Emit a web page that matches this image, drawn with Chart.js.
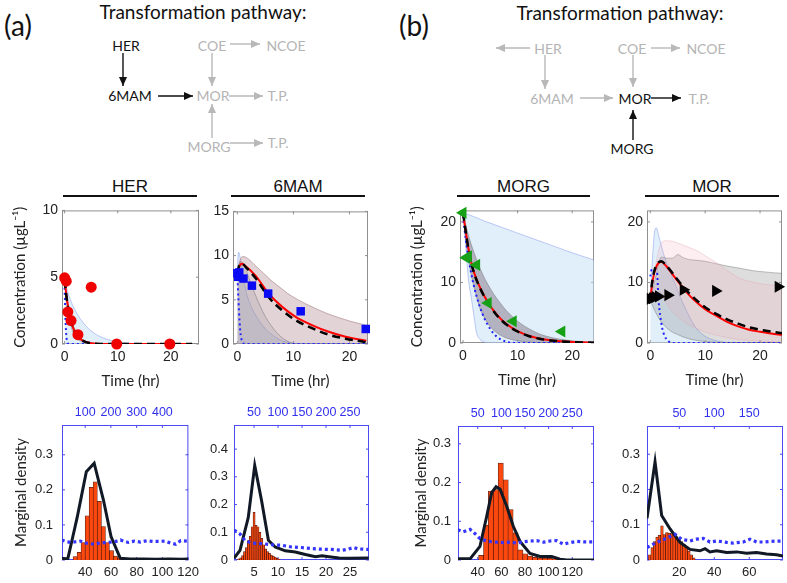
<!DOCTYPE html>
<html>
<head>
<meta charset="utf-8">
<script src="https://cdn.jsdelivr.net/npm/chart.js@4"></script>
<style>
  body { margin: 0; background: #fff; }
  #fig { position: relative; width: 787px; height: 583px; overflow: hidden; }
  #fig canvas { position: absolute; }
  .head { position: absolute; top: 177px; height: 18px; line-height: 18px; text-align: center;
          font: 17px "Liberation Sans", Arial, sans-serif; color: #111; border-bottom: 2px solid #111; }
</style>
</head>
<body>
<div id="fig">
  <svg width="787" height="160" style="position:absolute;left:0;top:0" font-family="Lato, sans-serif">
    <defs>
      <marker id="hk" viewBox="0 0 9 8" refX="9" refY="4" markerWidth="9" markerHeight="8" markerUnits="userSpaceOnUse" orient="auto">
        <path d="M0,0 L9,4 L0,8 z" fill="#111"/>
      </marker>
      <marker id="hg" viewBox="0 0 9 8" refX="9" refY="4" markerWidth="9" markerHeight="8" markerUnits="userSpaceOnUse" orient="auto">
        <path d="M0,0 L9,4 L0,8 z" fill="#b8b8b8"/>
      </marker>
    </defs>
    <g dominant-baseline="central" text-anchor="middle">
      <text x="18" y="25" font-size="28" fill="#111">(a)</text>
      <text x="203" y="11" font-size="19" fill="#111">Transformation pathway:</text>
      <g font-size="14">
        <text x="126" y="45" fill="#111">HER</text>
        <text x="130" y="95" fill="#111">6MAM</text>
        <text x="212" y="45" fill="#b4b4b4">COE</text>
        <text x="286" y="45" fill="#b4b4b4">NCOE</text>
        <text x="213" y="95" fill="#b4b4b4">MOR</text>
        <text x="278" y="95" fill="#b4b4b4">T.P.</text>
        <text x="209" y="146" fill="#b4b4b4">MORG</text>
        <text x="278" y="142" fill="#b4b4b4">T.P.</text>
      </g>
      <text x="414" y="25" font-size="28" fill="#111">(b)</text>
      <text x="620" y="12" font-size="19" fill="#111">Transformation pathway:</text>
      <g font-size="14">
        <text x="548" y="48" fill="#b4b4b4">HER</text>
        <text x="632" y="48" fill="#b4b4b4">COE</text>
        <text x="706" y="48" fill="#b4b4b4">NCOE</text>
        <text x="552" y="98" fill="#b4b4b4">6MAM</text>
        <text x="635" y="98" fill="#111">MOR</text>
        <text x="699" y="98" fill="#b4b4b4">T.P.</text>
        <text x="632" y="148" fill="#111">MORG</text>
      </g>
    </g>
    <g stroke-width="1.4" fill="none">
      <line x1="123" y1="53" x2="123" y2="86" stroke="#111" marker-end="url(#hk)"/>
      <line x1="158" y1="96" x2="193" y2="96" stroke="#111" marker-end="url(#hk)"/>
      <line x1="230" y1="44" x2="260" y2="44" stroke="#b8b8b8" marker-end="url(#hg)"/>
      <line x1="212" y1="53" x2="212" y2="86" stroke="#b8b8b8" marker-end="url(#hg)"/>
      <line x1="229" y1="96" x2="263" y2="96" stroke="#b8b8b8" marker-end="url(#hg)"/>
      <line x1="212" y1="138" x2="212" y2="104" stroke="#b8b8b8" marker-end="url(#hg)"/>
      <line x1="230" y1="143" x2="263" y2="143" stroke="#b8b8b8" marker-end="url(#hg)"/>

      <line x1="530" y1="48" x2="496" y2="48" stroke="#b8b8b8" marker-end="url(#hg)"/>
      <line x1="651" y1="48" x2="680" y2="48" stroke="#b8b8b8" marker-end="url(#hg)"/>
      <line x1="545" y1="55" x2="545" y2="89" stroke="#b8b8b8" marker-end="url(#hg)"/>
      <line x1="580" y1="98" x2="613" y2="98" stroke="#b8b8b8" marker-end="url(#hg)"/>
      <line x1="633" y1="55" x2="633" y2="87" stroke="#b8b8b8" marker-end="url(#hg)"/>
      <line x1="651" y1="98" x2="681" y2="98" stroke="#111" marker-end="url(#hk)"/>
      <line x1="633" y1="140" x2="633" y2="110" stroke="#111" marker-end="url(#hk)"/>
    </g>
  </svg>
  <div class="head" style="left:63px;width:134px">HER</div>
  <div class="head" style="left:231px;width:134px">6MAM</div>
  <div class="head" style="left:457px;width:133px">MORG</div>
  <div class="head" style="left:645px;width:134px">MOR</div>
</div>
<script>
// ---- tick labels ----
const timeTicks = [0, 10, 20];
const herConcTicks = [0, 5, 10];
const mamConcTicks = [0, 5, 10, 15];
const morConcTicks = [0, 10, 20];
const herHistTicks = [40, 60, 80, 100, 120];
const herHistTopTicks = [100, 200, 300, 400];
const mamHistTicks = [5, 10, 15, 20, 25];
const mamHistTopTicks = [50, 100, 150, 200, 250];
const morgHistTicks = [40, 60, 80, 100, 120];
const morgHistTopTicks = [50, 100, 150, 200, 250];
const morHistTicks = [20, 40, 60];
const morHistTopTicks = [50, 100, 150];
const densTicks3 = [0, 0.1, 0.2, 0.3];
const densTicks4 = [0, 0.1, 0.2, 0.3, 0.4];

// ---- HER concentration ----
const herTime = [0, 0.3, 0.6, 1.2, 2.5, 5, 9.8, 19.8];
const herConc = [4.95, 4.7, 2.4, 1.75, 0.7, 4.25, 0, 0];
const herCurveT = [0, 0.25, 0.5, 0.75, 1, 1.5, 2, 2.5, 3, 4, 5, 6, 8, 10, 14, 18, 24];
const herFit = [4.8, 3.9, 3.15, 2.55, 2.05, 1.32, 0.85, 0.55, 0.35, 0.15, 0.06, 0.02, 0, 0, 0, 0, 0];
const herMean = [4.8, 3.85, 3.1, 2.5, 2.0, 1.28, 0.82, 0.53, 0.34, 0.14, 0.06, 0.02, 0, 0, 0, 0, 0];
const herGrayHi = [4.8, 4.1, 3.4, 2.8, 2.3, 1.55, 1.05, 0.7, 0.47, 0.2, 0.09, 0.04, 0.01, 0, 0, 0, 0];
const herGrayLo = [4.8, 3.5, 2.7, 2.1, 1.6, 0.95, 0.55, 0.33, 0.2, 0.07, 0.02, 0.01, 0, 0, 0, 0, 0];
const herBandT = [0, 0.5, 1, 1.5, 2, 3, 4, 5, 6, 7, 8, 10, 12, 14, 24];
const herBandHi = [4.8, 4.0, 3.4, 2.9, 2.5, 1.85, 1.35, 0.97, 0.7, 0.5, 0.35, 0.17, 0.07, 0.02, 0];
const herInitT = [0, 0.1, 0.2, 0.3, 0.4, 0.5, 0.7, 1, 24];
const herInit = [4.2, 2.6, 1.4, 0.7, 0.3, 0.1, 0.02, 0, 0];

// ---- 6MAM concentration ----
const mamTime = [0, 0.15, 0.35, 1.1, 2.6, 5.5, 11.3, 22.9];
const mamConc = [8.0, 7.6, 8.1, 7.4, 6.6, 5.7, 3.7, 1.7];
const mamCurveT = [0, 0.3, 0.8, 1.5, 3.2, 5.6, 8, 10.4, 13.3, 16.3, 19.3, 23];
const mamFit = [7.95, 8.7, 9.08, 8.8, 7.76, 5.7, 4.2, 3.07, 2.14, 1.38, 0.82, 0.37];
const mamMean = [8.0, 8.8, 9.1, 8.7, 7.5, 5.3, 3.8, 2.7, 1.8, 1.05, 0.6, 0.2];
const mamGrayT = [0, 0.5, 1, 2, 3, 4, 5, 6, 7, 8, 9, 10, 12, 14, 16, 18, 20, 23.3];
const mamGrayHi = [8, 9.5, 9.9, 9.6, 9.0, 8.4, 7.8, 7.2, 6.7, 6.2, 5.7, 5.3, 4.6, 4.0, 3.45, 3.0, 2.6, 2.06];
const mamInnerT = [0, 0.5, 1, 2, 3, 4, 5, 6, 7, 8, 9, 10.4, 23.3];
const mamInner = [8, 9.3, 9.2, 7.6, 5.9, 4.4, 3.1, 2.1, 1.3, 0.7, 0.3, 0, 0];
const mamBandT = [0, 0.2, 0.5, 0.8, 1.2, 1.7, 2.5, 3.5, 4.5, 5.5, 6.5, 7.5, 9, 11, 23.3];
const mamBandHi = [8, 10.4, 9.8, 8.5, 7, 5.6, 4.2, 3, 2.1, 1.4, 0.9, 0.5, 0.2, 0.05, 0];
const mamInitT = [0, 0.2, 0.4, 0.6, 0.9, 1.3, 23.3];
const mamInit = [8, 5, 2.5, 1, 0.3, 0, 0];

// ---- MORG concentration ----
const morgTime = [0, 0.6, 1.0, 2.5, 4.6, 9.2, 18.1];
const morgConc = [21.5, 14.1, 14.3, 12.9, 6.6, 3.6, 1.9];
const morgCurveT = [0, 0.5, 1, 1.5, 2, 3, 4, 5, 6, 7, 8, 10, 12, 14, 16, 18, 20, 24];
const morgFit = [21.5, 18.5, 15.6, 13.4, 11.7, 9.4, 7.6, 6.1, 4.9, 3.9, 3.1, 1.95, 1.2, 0.75, 0.45, 0.28, 0.17, 0.06];
const morgMean = [21.5, 18.4, 15.5, 13.3, 11.6, 9.3, 7.5, 6.0, 4.8, 3.8, 3.0, 1.9, 1.15, 0.7, 0.42, 0.26, 0.16, 0.05];
const morgGrayHi = [21.6, 19.5, 17.8, 16.3, 15, 12.6, 10.6, 9, 7.6, 6.4, 5.3, 3.6, 2.4, 1.5, 0.95, 0.6, 0.35, 0.12];
const morgGrayLo = [21.6, 17, 13.8, 11.3, 9.3, 6.0, 4.0, 2.7, 1.8, 1.2, 0.8, 0.35, 0.15, 0.06, 0.02, 0, 0, 0];
const morgBandT = [0, 0.3, 0.7, 1, 1.6, 2, 2.5, 3, 3.5, 4, 5, 8, 12, 16, 20, 24];
const morgBandHi = [21.5, 21.4, 21.3, 21.2, 21.0, 20.85, 20.7, 20.5, 20.3, 20.1, 19.8, 18.8, 17.5, 16.2, 14.9, 13.7];
const morgBandLo = [21.5, 18.5, 13.7, 10.5, 7, 4.5, 1.6, 0.7, 0.3, 0.1, 0, 0, 0, 0, 0, 0];
const morgInitT = [0, 0.5, 1, 1.5, 2, 3, 4, 5, 6, 7, 8, 9, 10, 24];
const morgInit = [21, 17.2, 14, 11.5, 9.4, 6.2, 3.9, 2.3, 1.2, 0.55, 0.2, 0.05, 0, 0];

// ---- MOR concentration ----
const morTime = [0, 0.4, 0.9, 1.5, 3.2, 6, 11.9, 23.3];
const morConc = [7.3, 7.4, 7.6, 7.7, 7.9, 8.8, 8.6, 9.3];
const morCurveT = [0, 0.3, 0.7, 1.2, 2, 3, 4, 5, 6, 7, 8, 9, 10, 12, 14, 16, 18, 20, 22, 24];
const morFit = [7, 9.5, 11.5, 12.8, 13.4, 12.6, 11.4, 10.2, 9.1, 8.0, 7.1, 6.3, 5.6, 4.5, 3.5, 2.75, 2.2, 1.85, 1.55, 1.35];
const morMean = [7, 9.8, 11.8, 13.0, 13.5, 12.7, 11.6, 10.4, 9.3, 8.3, 7.4, 6.6, 5.9, 4.8, 3.9, 3.2, 2.6, 2.2, 1.9, 1.6];
const morGrayT = [0, 1, 2, 3, 4, 5, 6, 7, 8, 10, 12, 14, 16, 19, 24];
const morGrayHi = [7, 11, 14.2, 14, 14, 14.6, 14.1, 13.8, 13.7, 13.5, 13.1, 12.7, 12.4, 11.9, 11.5];
const morGrayLo = [7, 5, 3.5, 2.5, 1.8, 1.4, 1.0, 0.7, 0.5, 0.25, 0.1, 0.05, 0, 0, 0];
const morPinkT = [0, 1, 2, 3, 4, 5, 7, 9, 10, 12, 14, 16, 18, 20, 24];
const morPinkHi = [7, 13, 16.5, 16.9, 16.8, 16.5, 15.8, 15, 14.4, 13.3, 12, 10.8, 10.2, 9.8, 9.4];
const morPinkLo = [7, 9, 8, 6.5, 5.2, 4.3, 3, 2.2, 1.8, 1.3, 0.9, 0.6, 0.4, 0.3, 0.15];
const morBandT = [0, 0.4, 0.8, 1.1, 1.6, 2.5, 3.5, 4.5, 5.5, 6.5, 7.5, 8.5, 10, 11.5, 13, 15, 24];
const morBandHi = [7, 14, 18.5, 19, 17.5, 14.5, 12, 9.8, 7.5, 5.5, 3.7, 2.3, 1.1, 0.5, 0.2, 0, 0];
const morInitT = [0, 0.3, 1.2, 1.5, 2.1, 2.6, 3.3, 4, 24];
const morInit = [11, 12.2, 11.9, 7.2, 2.8, 1.2, 0.3, 0, 0];

// ---- marginal densities ----
const herBins = [30.6, 33.7, 36.8, 40.0, 43.1, 46.2, 49.4, 52.5, 55.6, 58.8, 61.9, 65.0];
const herHist = [0.01, 0.022, 0.05, 0.126, 0.207, 0.223, 0.167, 0.095, 0.05, 0.027, 0.011, 0.006];
const herPostX = [21.8, 26.5, 30, 33.7, 37, 40.9, 47, 54.2, 60.1, 67.3, 75, 85, 95, 105, 115, 120.2];
const herPost = [0.005, 0.003, 0.06, 0.12, 0.18, 0.252, 0.276, 0.171, 0.067, 0.005, 0.003, 0.003, 0.002, 0.003, 0.002, 0.003];
const herPriorX = [9, 27, 45, 63, 81, 105, 135, 159, 189, 219, 237, 267, 291, 315, 339, 363, 387, 410, 434, 452, 471, 495];
const herPrior = [0.057, 0.052, 0.050, 0.052, 0.054, 0.048, 0.045, 0.049, 0.050, 0.053, 0.057, 0.050, 0.054, 0.051, 0.055, 0.053, 0.053, 0.054, 0.048, 0.045, 0.055, 0.054];

const mamBins = [1.6, 2.0, 2.4, 2.8, 3.2, 3.6, 4.0, 4.4, 4.8, 5.2, 5.6, 6.0, 6.4, 6.8, 7.2, 7.6, 8.0, 8.4, 8.8, 9.2, 9.6, 10.0];
const mamHist = [0.004, 0.008, 0.016, 0.03, 0.045, 0.07, 0.085, 0.12, 0.172, 0.125, 0.12, 0.1, 0.078, 0.055, 0.04, 0.03, 0.024, 0.018, 0.014, 0.01, 0.006, 0.003];
const mamPostX = [0.83, 2.08, 3.8, 5.15, 6.6, 8, 9.4, 11.5, 13.6, 15.7, 17.8, 19.2, 20.6, 22.7, 24.8, 28.9];
const mamPost = [0.006, 0.035, 0.153, 0.341, 0.212, 0.071, 0.047, 0.033, 0.029, 0.02, 0.012, 0.015, 0.012, 0.007, 0.006, 0.007];
const mamPriorX = [8.3, 20.8, 31, 45, 66, 87, 108, 128, 149, 170, 191, 212, 233, 246, 257, 267, 288];
const mamPrior = [0.108, 0.094, 0.071, 0.061, 0.059, 0.055, 0.053, 0.047, 0.045, 0.041, 0.039, 0.038, 0.035, 0.039, 0.045, 0.04, 0.038];

const morgBins = [40.7, 44.9, 49.0, 53.2, 57.3, 61.5, 65.6, 69.8, 73.9, 78.1, 82.2, 86.4, 90.5, 94.7, 98.8, 103.0, 107.1, 111.3, 115.4, 119.6];
const morgHist = [0.012, 0.09, 0.178, 0.182, 0.25, 0.207, 0.13, 0.07, 0.026, 0.016, 0.01, 0.007, 0.005, 0.005, 0.004, 0.003, 0.003, 0.002, 0.002, 0.002];
const morgPostX = [23.1, 33.5, 41.9, 47.6, 51.8, 55.5, 58.9, 64.5, 70.1, 75.8, 84.2, 92.7, 102.6, 109.6, 115.3, 138.4];
const morgPost = [0.003, 0.003, 0.035, 0.113, 0.174, 0.189, 0.183, 0.139, 0.087, 0.048, 0.017, 0.009, 0.009, 0.002, 0, 0];
const morgPriorX = [7.7, 19.5, 33.8, 44.3, 54.8, 72.4, 90.2, 104.2, 118.3, 132.4, 146.5, 160.6, 174.7, 188.8, 202.9, 216.9, 231, 245.1, 259.2, 273.3, 294.4];
const morgPrior = [0.078, 0.073, 0.079, 0.068, 0.055, 0.048, 0.046, 0.045, 0.046, 0.044, 0.047, 0.049, 0.05, 0.046, 0.049, 0.05, 0.041, 0.045, 0.048, 0.047, 0.047];

const morBins = [2.3, 3.7, 5.1, 6.5, 7.9, 9.3, 10.7, 12.1, 13.5, 14.9, 16.3, 17.7, 19.1, 20.5, 21.9, 23.3, 24.7, 26.1, 27.5];
const morHist = [0.015, 0.035, 0.052, 0.065, 0.07, 0.097, 0.072, 0.078, 0.076, 0.075, 0.07, 0.066, 0.06, 0.052, 0.045, 0.036, 0.025, 0.015, 0.006];
const morPostX = [1.5, 6.1, 9.9, 14.7, 20.4, 26.1, 31.8, 34.7, 37.5, 41.3, 47.1, 52.8, 58.5, 64.2, 69.9, 75.6, 79.3];
const morPost = [0.118, 0.278, 0.126, 0.088, 0.05, 0.03, 0.026, 0.032, 0.023, 0.026, 0.021, 0.023, 0.019, 0.021, 0.017, 0.015, 0.011];
const morPriorX = [3.75, 12.8, 22.4, 34.3, 43.9, 53.4, 65.3, 74.8, 84.3, 93.8, 103.4, 117.7, 127.2, 141.5, 151, 160.5, 170, 181.9, 198];
const morPrior = [0.035, 0.045, 0.054, 0.064, 0.073, 0.059, 0.054, 0.059, 0.061, 0.051, 0.054, 0.05, 0.048, 0.051, 0.059, 0.051, 0.051, 0.053, 0.054];

// ---- styles ----
const sans = '"Liberation Sans", Arial, sans-serif';
const tickFont = { family: sans, size: 14 };
const histFont = { family: sans, size: 13 };
const topFont = { family: sans, size: 12.5 };
const labelFont = { family: 'Lato, sans-serif', size: 15 };
const blueFill = 'rgba(195,224,246,0.5)', blueEdge = 'rgba(125,145,235,0.6)';
const grayFill = 'rgba(115,112,118,0.24)', grayEdge = 'rgba(95,95,95,0.5)';
const pinkFill = 'rgba(240,170,185,0.2)', pinkEdge = 'rgba(225,160,175,0.45)';
const mauveFill = 'rgba(125,105,125,0.45)';

const fig = document.getElementById('fig');
const pts = (xs, ys) => xs.map((x, i) => ({ x, y: ys[i] }));

// frame with small inward ticks, drawn like matlab axes
const framePlugin = {
  id: 'frame',
  beforeDatasetsDraw(chart, args, opts) {
    const { ctx, chartArea: a, scales } = chart;
    ctx.save();
    ctx.strokeStyle = opts.color;
    ctx.lineWidth = 1;
    ctx.strokeRect(a.left + 0.5, a.top + 0.5, a.right - a.left - 1, a.bottom - a.top - 1);
    ctx.beginPath();
    scales.x.ticks.forEach(t => {
      const p = scales.x.getPixelForValue(t.value);
      ctx.moveTo(p, a.bottom); ctx.lineTo(p, a.bottom - 3);
      if (!scales.x2) { ctx.moveTo(p, a.top); ctx.lineTo(p, a.top + 3); }
    });
    if (scales.x2) scales.x2.ticks.forEach(t => {
      const p = scales.x2.getPixelForValue(t.value);
      ctx.moveTo(p, a.top); ctx.lineTo(p, a.top + 3);
    });
    scales.y.ticks.forEach(t => {
      const p = scales.y.getPixelForValue(t.value);
      ctx.moveTo(a.left, p); ctx.lineTo(a.left + 3, p);
      ctx.moveTo(a.right, p); ctx.lineTo(a.right - 3, p);
    });
    ctx.stroke();
    ctx.restore();
  }
};

function xAxis(min, max, ticks, height, title, opt = {}) {
  return {
    type: 'linear', position: opt.top ? 'top' : 'bottom', axis: 'x', min, max, offset: false,
    grid: { display: false, drawTicks: false }, border: { display: false },
    afterBuildTicks: s => { s.ticks = ticks.map(v => ({ value: v })); },
    afterFit: s => { s.height = height; },
    ticks: { padding: 5, color: opt.color || '#222', font: opt.font || tickFont, maxRotation: 0, autoSkip: false, callback: v => String(v) },
    title: title ? { display: true, text: title, color: '#222', font: labelFont, padding: 0 } : { display: false }
  };
}

function yAxis(min, max, ticks, width, pad, title, titlePad, font) {
  return {
    type: 'linear', min, max,
    grid: { display: false, drawTicks: false }, border: { display: false },
    afterBuildTicks: s => { s.ticks = ticks.map(v => ({ value: v })); },
    afterFit: s => { s.width = width; },
    ticks: { padding: pad, color: '#222', font: font || tickFont, autoSkip: false, callback: v => String(v) },
    title: title ? { display: true, text: title, color: '#222', font: labelFont, padding: { top: titlePad, bottom: 0 } } : { display: false }
  };
}

function curve(xs, ys, color, width, dash, order, smooth) {
  return { data: pts(xs, ys), showLine: true, pointRadius: 0, borderColor: color, borderWidth: width,
           borderDash: dash || [], cubicInterpolationMode: smooth ? 'monotone' : 'default', tension: 0, fill: false, order };
}

function band(xs, lo, hi, fillColor, edgeColor, order) {
  const sets = [];
  if (lo) sets.push({ data: pts(xs, lo), showLine: true, pointRadius: 0, borderColor: edgeColor, borderWidth: 0.8,
                      fill: false, cubicInterpolationMode: 'monotone', order });
  sets.push({ data: pts(xs, hi), showLine: true, pointRadius: 0, borderColor: edgeColor, borderWidth: 0.8,
              backgroundColor: fillColor, fill: lo ? '-1' : 'origin', cubicInterpolationMode: 'monotone', order });
  return sets;
}

function marks(xs, ys, style, color, radius, rotation) {
  return { data: pts(xs, ys), showLine: false, pointStyle: style, pointRadius: radius, pointRotation: rotation || 0,
           pointBackgroundColor: color, pointBorderColor: color, pointBorderWidth: 0, clip: false, order: 0 };
}

function hist(bins, dens) {
  return { type: 'bar', data: pts(bins, dens), backgroundColor: 'rgb(250,72,14)', borderColor: 'rgba(70,12,0,0.9)',
           borderWidth: 0.7, barPercentage: 1, categoryPercentage: 1, order: 3 };
}

function makeChart(box, datasets, scales) {
  const c = document.createElement('canvas');
  const w = box.R - box.L + box.yw + box.pr;
  const h = box.B - box.T + box.th + box.xh + box.pt;
  c.width = w; c.height = h;
  c.style.left = (box.L - box.yw) + 'px';
  c.style.top = (box.T - box.th - box.pt) + 'px';
  fig.appendChild(c);
  return new Chart(c.getContext('2d'), {
    type: 'scatter',
    data: { datasets },
    options: {
      responsive: false, animation: false, events: [],
      layout: { autoPadding: false, padding: { left: 0, top: box.pt, right: box.pr, bottom: 0 } },
      plugins: { legend: { display: false }, tooltip: { enabled: false }, frame: { color: box.frame } },
      scales
    },
    plugins: [framePlugin]
  });
}

const concTitle = 'Concentration (\u00b5gL\u207b\u00b9)';
const concFrame = '#8f8f8f', histFrame = '#4b4bf2';

// ---- (a) HER ----
makeChart({ L: 62, R: 199, T: 210, B: 344, yw: 52, pr: 8, pt: 12, th: 0, xh: 46, frame: concFrame }, [
  marks(herTime, herConc, 'circle', '#f00000', 5.5),
  curve(herCurveT, herMean, '#000', 2.5, [8, 5], 1, true),
  curve(herCurveT, herFit, '#ff0000', 2, null, 2, true),
  curve(herInitT, herInit, '#2222ff', 2, [2, 3], 3, true),
  ...band(herCurveT, herGrayLo, herGrayHi, grayFill, grayEdge, 6),
  ...band(herBandT, null, herBandHi, blueFill, blueEdge, 7)
], {
  x: xAxis(-0.5, 25.3, timeTicks, 46, 'Time (hr)'),
  y: yAxis(0, 10, herConcTicks, 52, 4, concTitle, 1)
});

// ---- (a) 6MAM ----
makeChart({ L: 233, R: 368, T: 211, B: 344, yw: 30, pr: 8, pt: 12, th: 0, xh: 46, frame: concFrame }, [
  marks(mamTime, mamConc, 'rect', '#0a0af5', 6),
  curve(mamCurveT, mamMean, '#000', 2.5, [8, 5], 1, true),
  curve(mamCurveT, mamFit, '#ff0000', 2, null, 2, true),
  curve(mamInitT, mamInit, '#2222ff', 2, [2, 3], 3, true),
  ...band(mamInnerT, null, mamInner, 'rgba(105,105,115,0.14)', grayEdge, 4),
  ...band(mamGrayT, null, mamGrayHi, pinkFill, pinkEdge, 5),
  ...band(mamGrayT, null, mamGrayHi, grayFill, grayEdge, 6),
  ...band(mamBandT, null, mamBandHi, blueFill, blueEdge, 7)
], {
  x: xAxis(-0.77, 23.3, timeTicks, 46, 'Time (hr)'),
  y: yAxis(0, 15, mamConcTicks, 30, 4)
});

// ---- (b) MORG ----
makeChart({ L: 460, R: 594, T: 210, B: 343, yw: 53, pr: 8, pt: 12, th: 0, xh: 46, frame: concFrame }, [
  marks(morgTime, morgConc, 'triangle', '#16a016', 7, -90),
  curve(morgCurveT, morgMean, '#000', 2.5, [8, 5], 1, true),
  curve(morgCurveT, morgFit, '#ff0000', 2, null, 2, true),
  curve(morgInitT, morgInit, '#2222ff', 2, [2, 3], 3, true),
  ...band(morgCurveT, morgGrayLo, morgGrayHi, mauveFill, grayEdge, 6),
  ...band(morgBandT, morgBandLo, morgBandHi, blueFill, blueEdge, 7)
], {
  x: xAxis(-0.55, 24, timeTicks, 46, 'Time (hr)'),
  y: yAxis(0, 21.9, morConcTicks, 53, 4, concTitle, 1)
});

// ---- (b) MOR ----
makeChart({ L: 647, R: 782, T: 210, B: 343, yw: 30, pr: 5, pt: 12, th: 0, xh: 46, frame: concFrame }, [
  marks(morTime, morConc, 'triangle', '#000', 7, 90),
  curve(morCurveT, morMean, '#000', 2.5, [8, 5], 1, true),
  curve(morCurveT, morFit, '#ff0000', 2, null, 2, true),
  curve(morInitT, morInit, '#2222ff', 2, [2, 3], 3, true),
  ...band(morPinkT, morPinkLo, morPinkHi, pinkFill, pinkEdge, 5),
  ...band(morGrayT, morGrayLo, morGrayHi, grayFill, grayEdge, 6),
  ...band(morBandT, null, morBandHi, blueFill, blueEdge, 7)
], {
  x: xAxis(-0.6, 24, timeTicks, 46, 'Time (hr)'),
  y: yAxis(0, 21.9, morConcTicks, 30, 4)
});

// ---- marginal density panels ----
function histChart(box, xr, x2r, yMax, ticks, topTicks, yTicks, yPad, title, bins, dens, postX, post, priorX, prior) {
  const chart = makeChart(box, [
    Object.assign(curve(priorX, prior, '#3535ff', 3.2, [3, 3], 0, false), { xAxisID: 'x2' }),
    curve(postX, post, '#111826', 3, null, 1, false),
    hist(bins, dens)
  ], {
    x: xAxis(xr[0], xr[1], ticks, box.xh, null, { font: histFont }),
    x2: xAxis(x2r[0], x2r[1], topTicks, box.th, null, { top: true, color: '#3030ee', font: topFont }),
    y: yAxis(0, yMax, yTicks, box.yw, yPad, title, 2, histFont)
  });
  // make the bins touch: bar width = pixel distance between neighbouring bins
  const xs = chart.scales.x;
  chart.data.datasets[2].barThickness = Math.abs(xs.getPixelForValue(bins[1]) - xs.getPixelForValue(bins[0])) + 0.2;
  chart.update();
  return chart;
}

histChart({ L: 62, R: 198, T: 425, B: 560, yw: 52, pr: 6, pt: 0, th: 25, xh: 22, frame: histFrame },
  [22.0, 120.2], [10, 501], 0.385, herHistTicks, herHistTopTicks, densTicks3, 9, 'Marginal density',
  herBins, herHist, herPostX, herPost, herPriorX, herPrior);

histChart({ L: 234, R: 369, T: 425, B: 560, yw: 36, pr: 6, pt: 0, th: 25, xh: 22, frame: histFrame },
  [0.83, 28.96], [8.3, 289.6], 0.487, mamHistTicks, mamHistTopTicks, densTicks4, 6, null,
  mamBins, mamHist, mamPostX, mamPost, mamPriorX, mamPrior);

histChart({ L: 458, R: 594, T: 426, B: 560, yw: 48, pr: 6, pt: 0, th: 25, xh: 22, frame: histFrame },
  [23.3, 138.4], [8.25, 296], 0.346, morgHistTicks, morgHistTopTicks, densTicks3, 7, 'Marginal density',
  morgBins, morgHist, morgPostX, morgPost, morgPriorX, morgPrior);

histChart({ L: 647, R: 783, T: 426, B: 560, yw: 36, pr: 4, pt: 0, th: 25, xh: 22, frame: histFrame },
  [1.5, 79.3], [3.75, 198.25], 0.38, morHistTicks, morHistTopTicks, densTicks3, 7, null,
  morBins, morHist, morPostX, morPost, morPriorX, morPrior);
</script>
</body>
</html>
